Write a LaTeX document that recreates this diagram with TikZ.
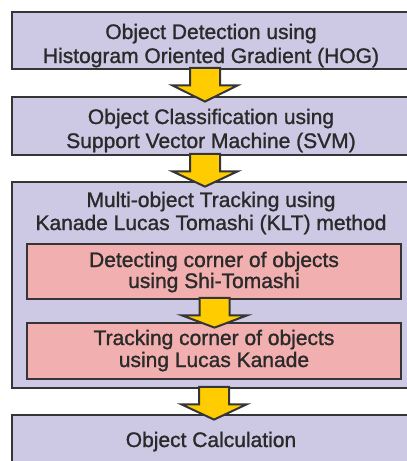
\documentclass[tikz,border=0pt]{standalone}
\usepackage{fontspec}
\setmainfont{Liberation Sans}[FakeBold=1.2]
\usetikzlibrary{calc}
\definecolor{lav}{HTML}{CDC9E4}
\definecolor{pinkf}{HTML}{F2AFAF}
\definecolor{yel}{HTML}{FFCC00}
\definecolor{edgec}{HTML}{353535}
\definecolor{txt}{HTML}{2A2A2A}
\newcommand\flowarrow[3]{%
  \draw[yarrow] let \p1=(#1.south), \p2=(#2.north) in
    ({#3pt-15pt},{\y1+2.5pt}) -- ({#3pt+15pt},{\y1+2.5pt}) -- ({#3pt+15pt},{\y1-15pt})
    -- ({#3pt+32.5pt},{\y1-15pt}) -- ({#3pt},{\y2-6pt}) -- ({#3pt-32.5pt},{\y1-15pt})
    -- ({#3pt-15pt},{\y1-15pt}) -- cycle;}
\begin{document}
\begin{tikzpicture}[x=1pt,y=-1pt,
  outerbox/.style={draw=edgec, line width=2.8pt, fill=lav, inner sep=0pt, minimum width=400pt},
  innerbox/.style={draw=edgec, line width=2.8pt, fill=pinkf, inner sep=0pt, minimum width=374pt},
  lbl/.style={inner sep=0pt, anchor=base, text=txt, font=\fontsize{21}{24}\selectfont},
  yarrow/.style={draw=edgec, line width=2pt, fill=yel, line join=miter}]
\useasboundingbox (0,0) rectangle (407,461);
\clip (0,0) rectangle (407,461);
\fill[white] (0,0) rectangle (407,461);
% boxes
\node[outerbox, minimum height=57pt] (b1) at (212,40.5) {};
\node[outerbox, minimum height=58pt] (b2) at (212,126) {};
\node[outerbox, minimum height=206pt] (b3) at (212,285) {};
\node[innerbox, minimum height=55pt] (i1) at (214,271.5) {};
\node[innerbox, minimum height=56pt] (i2) at (214,351) {};
\node[outerbox, minimum height=60pt] (b4) at (212,445) {};
% texts
\node[lbl] (t1a) at (211,39) {Object Detection using};
\node[lbl] (t1b) at (211,63) {Histogram Oriented Gradient (HOG)};
\node[lbl] (t2a) at (211,124) {Object Classification using};
\node[lbl] (t2b) at (211,148) {Support Vector Machine (SVM)};
\node[lbl] (t3a) at (211,207) {Multi-object Tracking using};
\node[lbl] (t3b) at (211,230) {Kanade Lucas Tomashi (KLT) method};
\node[lbl] (t4a) at (214,267) {Detecting corner of objects};
\node[lbl] (t4b) at (214,288) {using Shi-Tomashi};
\node[lbl] (t5a) at (214,345) {Tracking corner of objects};
\node[lbl] (t5b) at (214,367) {using Lucas Kanade};
\node[lbl] (t6) at (211,447) {Object Calculation};
% arrows
\flowarrow{b1}{b2}{205}
\flowarrow{b2}{b3}{205}
\flowarrow{i1}{i2}{214.5}
\flowarrow{b3}{b4}{214}
\end{tikzpicture}
\end{document}
